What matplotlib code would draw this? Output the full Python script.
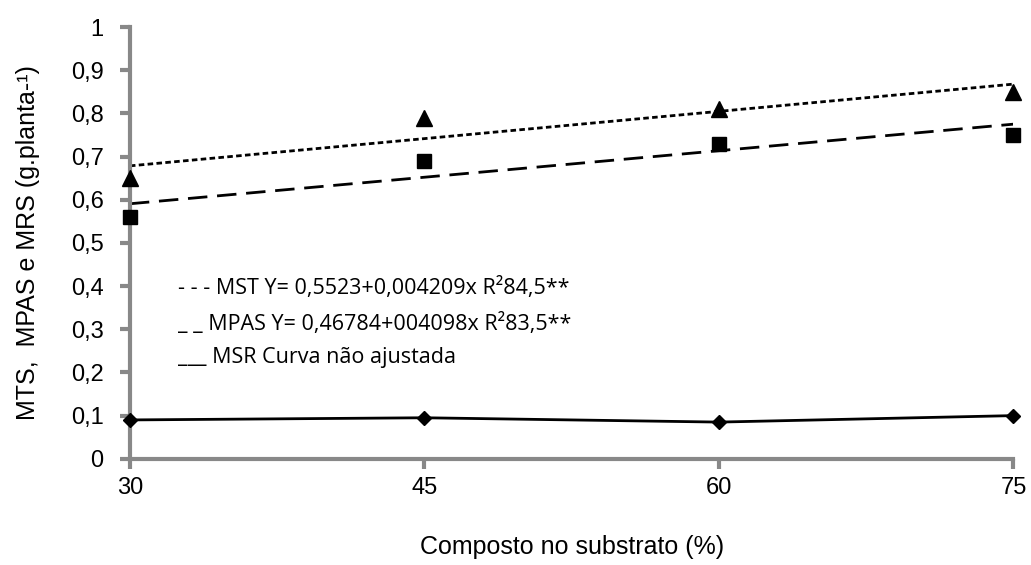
import matplotlib.pyplot as plt
import numpy as np

# dados
composto = [30, 45, 60, 75]
mst = [0.65, 0.79, 0.81, 0.85]
mpas = [0.56, 0.69, 0.73, 0.75]
msr = [0.09, 0.095, 0.085, 0.10]

mst_a, mst_b = 0.5523, 0.004209
mpas_a, mpas_b = 0.46784, 0.004098

plt.rcParams['font.family'] = ['Liberation Sans', 'DejaVu Sans']

fig = plt.figure(figsize=(10.31, 5.65), dpi=100)
ax = fig.add_axes([0.126, 0.188, 0.857, 0.764])

xs = np.array([composto[0], composto[-1]])
ax.plot(xs, mst_a + mst_b * xs, color='black', linestyle=(0, (2, 1.2)), linewidth=2)
ax.plot(xs, mpas_a + mpas_b * xs, color='black', linestyle=(0, (7, 3.5)), linewidth=2)

ax.plot(composto, mst, '^', color='black', markersize=11, clip_on=False, zorder=5)
ax.plot(composto, mpas, 's', color='black', markersize=10, clip_on=False, zorder=5)
ax.plot(composto, msr, 'D', color='black', markersize=7.5, linestyle='-', linewidth=2,
        clip_on=False, zorder=5)

ax.set_xlim(30, 75)
ax.set_ylim(0, 1)
ax.set_xticks(composto)
ax.set_yticks(np.arange(0, 1.01, 0.1))
ax.set_yticklabels(['0'] + ['0,%d' % i for i in range(1, 10)] + ['1'])

for s in ['top', 'right']:
    ax.spines[s].set_visible(False)
for s in ['left', 'bottom']:
    ax.spines[s].set_color('#888888')
    ax.spines[s].set_linewidth(3)
ax.tick_params(axis='both', direction='out', length=7, width=3, color='#888888',
               labelsize=17)
ax.tick_params(axis='y', pad=12)
ax.tick_params(axis='x', pad=6)

ax.set_xlabel('Composto no substrato (%)', fontsize=18, labelpad=26)
ax.set_ylabel('MTS,  MPAS e MRS (g.planta-¹)', fontsize=18, labelpad=22)

leg_font = ['Open Sans', 'DejaVu Sans']
ax.text(32.45, 0.396, '- - - MST Y= 0,5523+0,004209x R²84,5**', fontsize=15.5,
        family=leg_font, va='center')
ax.text(32.45, 0.3125, '_ _ MPAS Y= 0,46784+004098x R²83,5**', fontsize=15.5,
        family=leg_font, va='center')
ax.text(32.45, 0.234, '___ MSR Curva não ajustada', fontsize=15.5,
        family=leg_font, va='center')

fig.savefig('out.png', dpi=100)
